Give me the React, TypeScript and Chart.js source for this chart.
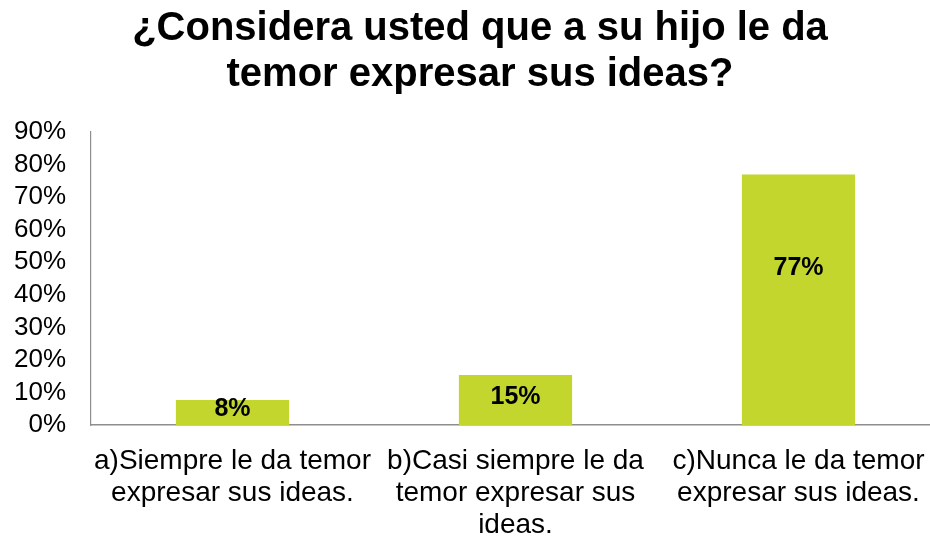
import React, { useEffect, useRef } from "react";
import { Chart, registerables } from "chart.js";

Chart.register(...registerables);

const titleLines = ["¿Considera usted que a su hijo le da", "temor expresar sus ideas?"];
const categories: string[][] = [
  ["a)Siempre le da temor", "expresar sus ideas."],
  ["b)Casi siempre le da", "temor expresar sus", "ideas."],
  ["c)Nunca le da temor", "expresar sus ideas."],
];
const values = [7.69, 15.38, 76.92];
const valueLabels = ["8%", "15%", "77%"];
const yMax = 90;
const yStep = 10;

const barColor = "#c2d62e";
const axisColor = "#8e8e8e";
const sans = "'Liberation Sans', Arial, sans-serif";

const titlePlugin = {
  id: "centeredTitle",
  afterDraw(chart: any) {
    const ctx = chart.ctx;
    ctx.save();
    ctx.font = `bold 40px ${sans}`;
    ctx.fillStyle = "#000";
    ctx.textAlign = "center";
    ctx.textBaseline = "middle";
    titleLines.forEach((line, k) => {
      ctx.fillText(line, chart.width / 2, 29 + k * 46);
    });
    ctx.restore();
  },
};

const labelPlugin = {
  id: "barLabels",
  afterDatasetsDraw(chart: any) {
    const ctx = chart.ctx;
    const meta = chart.getDatasetMeta(0);
    ctx.save();
    ctx.font = `bold 25px ${sans}`;
    ctx.fillStyle = "#000";
    ctx.textAlign = "center";
    ctx.textBaseline = "middle";
    meta.data.forEach((bar: any, i: number) => {
      const h = bar.base - bar.y;
      const y = bar.y + Math.min(h / 2 - 3, 94);
      ctx.fillText(valueLabels[i], bar.x, y);
    });
    ctx.restore();
  },
};

const catLabelPlugin = {
  id: "catLabels",
  afterDraw(chart: any) {
    const ctx = chart.ctx;
    const xs = chart.scales.x;
    const bottom = chart.chartArea.bottom;
    ctx.save();
    ctx.font = `28px ${sans}`;
    ctx.fillStyle = "#000";
    ctx.textAlign = "center";
    ctx.textBaseline = "middle";
    (chart.data.labels as string[][]).forEach((lines, i) => {
      const x = xs.getPixelForTick(i);
      lines.forEach((line, k) => {
        ctx.fillText(line, x, bottom + 36 + k * 32);
      });
    });
    ctx.restore();
  },
};

export default function App() {
  const ref = useRef<HTMLCanvasElement>(null);
  useEffect(() => {
    document.body.style.overflow = "hidden";
    const chart = new Chart(ref.current!, {
      type: "bar",
      data: {
        labels: categories,
        datasets: [
          {
            data: values,
            backgroundColor: barColor,
            borderWidth: 0,
            categoryPercentage: 1,
            barPercentage: 0.4,
          },
        ],
      },
      options: {
        animation: false,
        responsive: false,
        layout: { padding: { left: 0, right: 20, top: 132, bottom: 0 } },
        plugins: {
          legend: { display: false },
          tooltip: { enabled: false },
          title: { display: false },
        },
        scales: {
          x: {
            grid: { display: false, drawTicks: false },
            border: { display: true, color: axisColor, width: 1.5 },
            ticks: { display: false },
            afterFit: (s: any) => {
              s.height = 116;
            },
          },
          y: {
            min: 0,
            max: yMax,
            grid: { display: false, drawTicks: false },
            border: { display: true, color: axisColor, width: 1.2 },
            ticks: {
              stepSize: yStep,
              autoSkip: false,
              color: "#000",
              font: { family: sans, size: 26 },
              padding: 25,
              callback: (v: any) => v + "%",
            },
            afterFit: (s: any) => {
              s.width = 91;
            },
          },
        },
      },
      plugins: [labelPlugin, catLabelPlugin, titlePlugin],
    });
    return () => chart.destroy();
  }, []);
  return (
    <div style={{ position: "absolute", left: 0, top: 0, width: 960, height: 541, background: "#fff" }}>
      <canvas ref={ref} width={960} height={541} style={{ display: "block" }} />
    </div>
  );
}
